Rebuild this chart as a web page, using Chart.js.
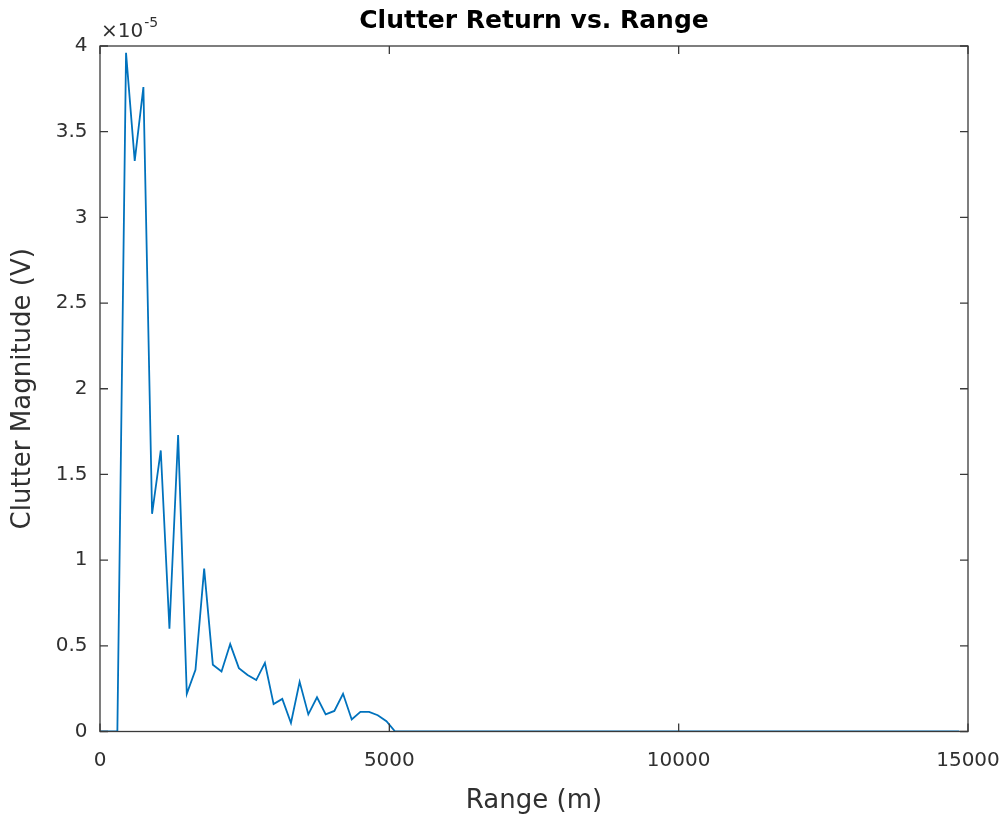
<!DOCTYPE html>
<html lang="en">
<head>
  <meta charset="UTF-8">
  <title>Clutter Return vs. Range</title>
  <script src="https://cdn.jsdelivr.net/npm/chart.js"></script>
  <style>
    html, body { margin: 0; padding: 0; background: #fff; }
    #wrap { width: 1006px; height: 820px; }
  </style>
</head>
<body>
  <div id="wrap"><canvas id="clutterChart"></canvas></div>

  <script>
    // range samples (m)
    const rangeM = [
      0, 150, 300, 450, 600, 750, 900, 1050, 1200, 1350,
      1500, 1650, 1800, 1950, 2100, 2250, 2400, 2550, 2700, 2850,
      3000, 3150, 3300, 3450, 3600, 3750, 3900, 4050, 4200, 4350,
      4500, 4650, 4800, 4950, 5100, 5250, 5400, 5550, 5700, 5850,
      6000, 6150, 6300, 6450, 6600, 6750, 6900, 7050, 7200, 7350,
      7500, 7650, 7800, 7950, 8100, 8250, 8400, 8550, 8700, 8850,
      9000, 9150, 9300, 9450, 9600, 9750, 9900, 10050, 10200, 10350,
      10500, 10650, 10800, 10950, 11100, 11250, 11400, 11550, 11700, 11850,
      12000, 12150, 12300, 12450, 12600, 12750, 12900, 13050, 13200, 13350,
      13500, 13650, 13800, 13950, 14100, 14250, 14400, 14550, 14700, 14850
    ];

    // clutter magnitude, in units of 1e-5 V
    const magnitudeE5 = [
      0, 0, 0, 3.96, 3.33, 3.76, 1.27, 1.64, 0.60, 1.73,
      0.22, 0.36, 0.95, 0.39, 0.35, 0.51, 0.37, 0.33, 0.30, 0.40,
      0.16, 0.19, 0.05, 0.29, 0.10, 0.20, 0.10, 0.12, 0.22, 0.07,
      0.115, 0.115, 0.095, 0.06, 0, 0, 0, 0, 0, 0,
      0, 0, 0, 0, 0, 0, 0, 0, 0, 0,
      0, 0, 0, 0, 0, 0, 0, 0, 0, 0,
      0, 0, 0, 0, 0, 0, 0, 0, 0, 0,
      0, 0, 0, 0, 0, 0, 0, 0, 0, 0,
      0, 0, 0, 0, 0, 0, 0, 0, 0, 0,
      0, 0, 0, 0, 0, 0, 0, 0, 0, 0
    ];

    const xTicks = [0, 5000, 10000, 15000];
    const yTicks = [0, 0.5, 1, 1.5, 2, 2.5, 3, 3.5, 4];
    const yExponent = '-5';
    const titleText = 'Clutter Return vs. Range';

    const FONT = "'DejaVu Sans', sans-serif";
    const AXIS_COLOR = '#303030';

    // MATLAB-like box with inward ticks on all four sides, exponent label and title
    const matlabBox = {
      id: 'matlabBox',
      afterDraw(chart) {
        const { ctx, chartArea: a, scales } = chart;
        const tl = 8;
        ctx.save();
        ctx.strokeStyle = '#3a3a3a';
        ctx.lineWidth = 1.3;
        ctx.strokeRect(a.left, a.top, a.right - a.left, a.bottom - a.top);
        ctx.beginPath();
        xTicks.forEach(v => {
          const px = scales.x.getPixelForValue(v);
          ctx.moveTo(px, a.bottom); ctx.lineTo(px, a.bottom - tl);
          ctx.moveTo(px, a.top); ctx.lineTo(px, a.top + tl);
        });
        yTicks.forEach(v => {
          const py = scales.y.getPixelForValue(v);
          ctx.moveTo(a.left, py); ctx.lineTo(a.left + tl, py);
          ctx.moveTo(a.right, py); ctx.lineTo(a.right - tl, py);
        });
        ctx.stroke();

        // x10^-5 multiplier above the y axis
        ctx.fillStyle = AXIS_COLOR;
        ctx.textAlign = 'left';
        ctx.textBaseline = 'alphabetic';
        ctx.font = '20px ' + FONT;
        const base = '\u00d710';
        ctx.fillText(base, a.left + 1, a.top - 9);
        const w = ctx.measureText(base).width;
        ctx.font = '14px ' + FONT;
        ctx.fillText(yExponent, a.left + 2 + w, a.top - 19);

        // title centred over the plot box
        ctx.fillStyle = '#000';
        ctx.textAlign = 'center';
        ctx.font = 'bold 25px ' + FONT;
        ctx.fillText(titleText, (a.left + a.right) / 2, 28);
        ctx.restore();
      }
    };

    const ctx = document.getElementById('clutterChart').getContext('2d');
    const clutterChart = new Chart(ctx, {
      type: 'line',
      data: {
        datasets: [{
          label: 'Clutter',
          data: rangeM.map((r, i) => ({ x: r, y: magnitudeE5[i] })),
          borderColor: '#0072BD',
          borderWidth: 1.8,
          pointRadius: 0,
          tension: 0,
          fill: false
        }]
      },
      options: {
        responsive: true,
        maintainAspectRatio: false,
        animation: false,
        layout: { padding: { left: 0, right: 38, top: 46, bottom: 0 } },
        plugins: {
          legend: { display: false },
          tooltip: { enabled: false },
          title: { display: false }
        },
        scales: {
          x: {
            type: 'linear',
            min: 0,
            max: 15000,
            afterBuildTicks: s => { s.ticks = xTicks.map(v => ({ value: v })); },
            afterFit: s => { s.height = 88.5; s.paddingLeft = 0; s.paddingRight = 0; },
            grid: { display: false, drawTicks: false },
            border: { display: false },
            ticks: {
              color: AXIS_COLOR,
              font: { family: FONT, size: 20 },
              padding: 17,
              maxRotation: 0,
              callback: v => String(v)
            },
            title: {
              display: true,
              text: 'Range (m)',
              color: AXIS_COLOR,
              font: { family: FONT, size: 26 },
              padding: { top: 0, bottom: 3 }
            }
          },
          y: {
            type: 'linear',
            min: 0,
            max: 4,
            afterBuildTicks: s => { s.ticks = yTicks.map(v => ({ value: v })); },
            afterFit: s => { s.width = 100; s.paddingTop = 0; s.paddingBottom = 0; },
            grid: { display: false, drawTicks: false },
            border: { display: false },
            ticks: {
              color: AXIS_COLOR,
              font: { family: FONT, size: 20 },
              padding: 12.5,
              callback: v => String(v)
            },
            title: {
              display: true,
              text: 'Clutter Magnitude (V)',
              color: AXIS_COLOR,
              font: { family: FONT, size: 26 },
              padding: { top: 8, bottom: 0 }
            }
          }
        }
      },
      plugins: [matlabBox]
    });
  </script>
</body>
</html>
